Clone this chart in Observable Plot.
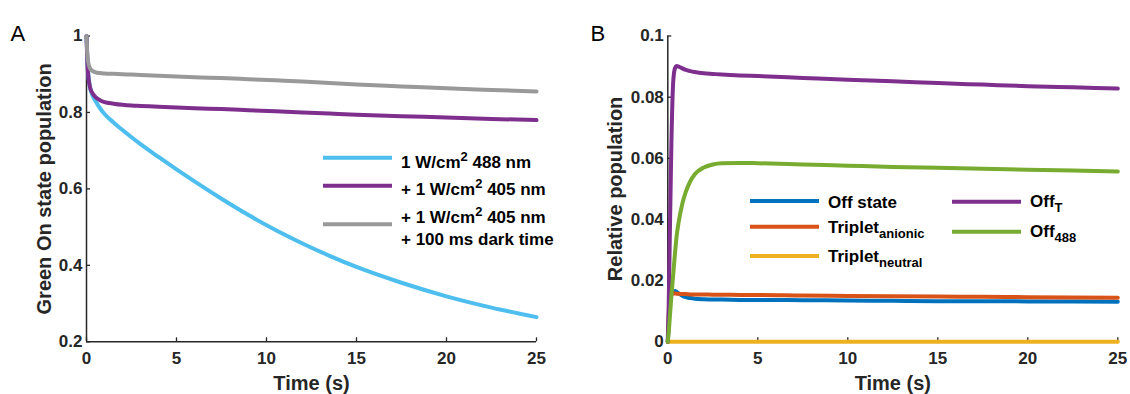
<!DOCTYPE html>
<html><head><meta charset="utf-8">
<script src="https://cdn.jsdelivr.net/npm/d3@7"></script>
<script src="https://cdn.jsdelivr.net/npm/@observablehq/plot@0.6"></script>
<style>
html,body{margin:0;padding:0;background:#fff;}
#wrap{position:relative;width:1130px;height:394px;overflow:hidden;}
#wrap > svg{position:absolute;top:0;}
</style></head><body><div id="wrap"></div>
<script>
const FONT = '"Liberation Sans", Arial, Helvetica, sans-serif';

// ---------- Panel A ----------
const timeA = [0, 0.05, 0.1, 0.2, 0.35, 0.5, 0.75, 1, 1.5, 2, 2.5, 3, 4, 5, 6, 7.5, 9, 10.5, 12, 13.5, 15, 17.5, 20, 22.5, 25];
const on488        = [1.0, 0.935, 0.9, 0.865, 0.843, 0.830, 0.811, 0.796, 0.774, 0.754, 0.735, 0.717, 0.6835, 0.651, 0.6195, 0.5742, 0.5315, 0.4925, 0.4573, 0.425, 0.3958, 0.3545, 0.319, 0.2895, 0.2645];
const on488_405    = [1.0, 0.93, 0.895, 0.865, 0.849, 0.840, 0.832, 0.827, 0.823, 0.820, 0.818, 0.817, 0.815, 0.813, 0.811, 0.809, 0.806, 0.803, 0.800, 0.797, 0.794, 0.790, 0.787, 0.783, 0.780];
const on488_405_dk = [1.0, 0.95, 0.93, 0.915, 0.908, 0.905, 0.903, 0.902, 0.901, 0.900, 0.899, 0.898, 0.896, 0.894, 0.892, 0.890, 0.887, 0.884, 0.881, 0.877, 0.873, 0.868, 0.863, 0.859, 0.855];
const seriesA = ["1 W/cm^2 488 nm", "+ 1 W/cm^2 405 nm", "+ 1 W/cm^2 405 nm|+ 100 ms dark time"];
const colorsA = ["#4DBEEE", "#7E2F8E", "#999999"];
const yTicksA = [0.2, 0.4, 0.6, 0.8, 1];
const xTicks = [0, 5, 10, 15, 20, 25];

// ---------- Panel B ----------
const timeB = [0, 0.05, 0.1, 0.2, 0.3, 0.4, 0.5, 0.6, 0.8, 1, 1.25, 1.5, 2, 2.5, 3, 4, 5, 7.5, 10, 12.5, 15, 17.5, 20, 22.5, 25];
const offState       = [0, 0.006, 0.011, 0.0155, 0.0165, 0.0166, 0.0163, 0.0158, 0.0151, 0.0146, 0.0143, 0.0141, 0.0139, 0.0138, 0.0138, 0.0137, 0.0137, 0.0136, 0.0135, 0.0134, 0.0133, 0.0133, 0.0132, 0.0132, 0.0131];
const tripletAnionic = [0, 0.008, 0.013, 0.0155, 0.0158, 0.0158, 0.0157, 0.0157, 0.0156, 0.0156, 0.0155, 0.0155, 0.0155, 0.0154, 0.0154, 0.0153, 0.0153, 0.0151, 0.0150, 0.0149, 0.0148, 0.0147, 0.0146, 0.0145, 0.0144];
const tripletNeutral = [0, 0, 0, 0, 0, 0, 0, 0, 0, 0, 0, 0, 0, 0, 0, 0, 0, 0, 0, 0, 0, 0, 0, 0, 0];
const offT           = [0, 0.012, 0.03, 0.065, 0.085, 0.0895, 0.0902, 0.0900, 0.0894, 0.0889, 0.0885, 0.0882, 0.0878, 0.0876, 0.0874, 0.0871, 0.0869, 0.0863, 0.0857, 0.0852, 0.0846, 0.0841, 0.0836, 0.0832, 0.0828];
const off488         = [0, 0.003, 0.007, 0.015, 0.022, 0.029, 0.035, 0.039, 0.045, 0.049, 0.0525, 0.0548, 0.0570, 0.0580, 0.0584, 0.0585, 0.0584, 0.0580, 0.0576, 0.0572, 0.0569, 0.0566, 0.0563, 0.0560, 0.0557];
const seriesB = ["Off state", "Triplet_anionic", "Triplet_neutral", "Off_T", "Off_488"];
const colorsB = ["#0072BD", "#D95319", "#EDB120", "#7E2F8E", "#77AC30"];
const yTicksB = [0, 0.02, 0.04, 0.06, 0.08, 0.1];

const valuesA = [on488, on488_405, on488_405_dk];
const valuesB = [offState, tripletAnionic, tripletNeutral, offT, off488];
const rowsA = seriesA.flatMap((s, i) => timeA.map((t, j) => ({t, v: valuesA[i][j], s})));
const rowsB = seriesB.flatMap((s, i) => timeB.map((t, j) => ({t, v: valuesB[i][j], s})));

function legendMark(items) {
  return () => {
    const g = d3.create("svg:g")
      .attr("font-family", FONT).attr("font-weight", "bold")
      .attr("font-size", 17).attr("fill", "#000").attr("text-anchor", "start");
    for (const it of items) {
      g.append("line").attr("x1", it.x).attr("x2", it.x + 69)
        .attr("y1", it.ly).attr("y2", it.ly)
        .attr("stroke", it.color).attr("stroke-width", 4);
      it.label.split("|").forEach((line, i) => {
        const t = g.append("text").attr("x", it.x + 78).attr("y", it.base[i]);
        let cur = 0;
        for (const m of line.matchAll(/\^([^ ]+)|_([^ ]+)|([^^_]+)/g)) {
          let off = 0, txt = m[3], fs = null;
          if (m[1]) { off = -7; txt = m[1]; fs = 13; }
          else if (m[2]) { off = 5; txt = m[2]; fs = 13; }
          const ts = t.append("tspan").text(txt).attr("dy", off - cur);
          if (fs) ts.attr("font-size", fs);
          cur = off;
        }
      });
    }
    return g.node();
  };
}

function panel({rows, series, colors, yDomain, yTicks, marginLeft, marginRight, ylabel, ylabelDx, letter, letterDx, legend}) {
  return Plot.plot({
    width: 565, height: 394,
    marginLeft, marginRight, marginTop: 35.5, marginBottom: 52.7,
    style: {fontFamily: FONT, fontSize: "17px", fontWeight: "bold", color: "#262626", background: "transparent", overflow: "visible"},
    x: {domain: [0, 25]},
    y: {domain: yDomain},
    color: {domain: series, range: colors},
    marks: [
      Plot.axisX(xTicks, {tickSize: -4, tickPadding: 14.5, tickFormat: d => String(d), strokeWidth: 1.3, label: null}),
      Plot.axisY(yTicks, {tickSize: -4, tickPadding: 8, tickFormat: d => String(d), strokeWidth: 1.3, label: null}),
      Plot.ruleX([0], {stroke: "#262626", strokeWidth: 1.5}),
      Plot.ruleY([yDomain[0]], {stroke: "#262626", strokeWidth: 1.5}),
      Plot.line(rows, {x: "t", y: "v", z: "s", stroke: "s", strokeWidth: 4, curve: "monotone-x"}),
      Plot.text([ylabel], {text: d => d, frameAnchor: "left", rotate: -90, dx: ylabelDx, lineAnchor: "bottom", textAnchor: "middle", fontSize: 20, fill: "#262626"}),
      Plot.text(["Time (s)"], {text: d => d, frameAnchor: "bottom", dy: 47.7, lineAnchor: "bottom", textAnchor: "middle", fontSize: 20, fill: "#262626"}),
      Plot.text([letter], {text: d => d, frameAnchor: "top-left", dx: letterDx, dy: 5.2, lineAnchor: "bottom", textAnchor: "start", fontSize: 22, fontWeight: "normal", fill: "#000"}),
      legendMark(legend)
    ]
  });
}

const svgA = panel({
  rows: rowsA, series: seriesA, colors: colorsA, yDomain: [0.2, 1], yTicks: yTicksA,
  marginLeft: 86, marginRight: 29, ylabel: "Green On state population", ylabelDx: -36,
  letter: "A", letterDx: -76,
  legend: [
    {x: 323, ly: 157.7, color: colorsA[0], label: seriesA[0], base: [167.5]},
    {x: 323, ly: 185.7, color: colorsA[1], label: seriesA[1], base: [195]},
    {x: 323, ly: 224.3, color: colorsA[2], label: seriesA[2], base: [222.5, 244.5]}
  ]
});
const svgB = panel({
  rows: rowsB, series: seriesB, colors: colorsB, yDomain: [0, 0.1], yTicks: yTicksB,
  marginLeft: 102.3, marginRight: 12.7, ylabel: "Relative population", ylabelDx: -45.6,
  letter: "B", letterDx: -77.3,
  legend: [
    {x: 185, ly: 201, color: colorsB[0], label: seriesB[0], base: [208]},
    {x: 185, ly: 226.7, color: colorsB[1], label: seriesB[1], base: [233.3]},
    {x: 185, ly: 256, color: colorsB[2], label: seriesB[2], base: [261.7]},
    {x: 387, ly: 201.7, color: colorsB[3], label: seriesB[3], base: [206.7]},
    {x: 387, ly: 231.7, color: colorsB[4], label: seriesB[4], base: [236.7]}
  ]
});
svgA.style.left = "0px";
svgB.style.left = "565px";
const wrap = document.getElementById("wrap");
wrap.appendChild(svgA);
wrap.appendChild(svgB);
</script>
</body></html>
